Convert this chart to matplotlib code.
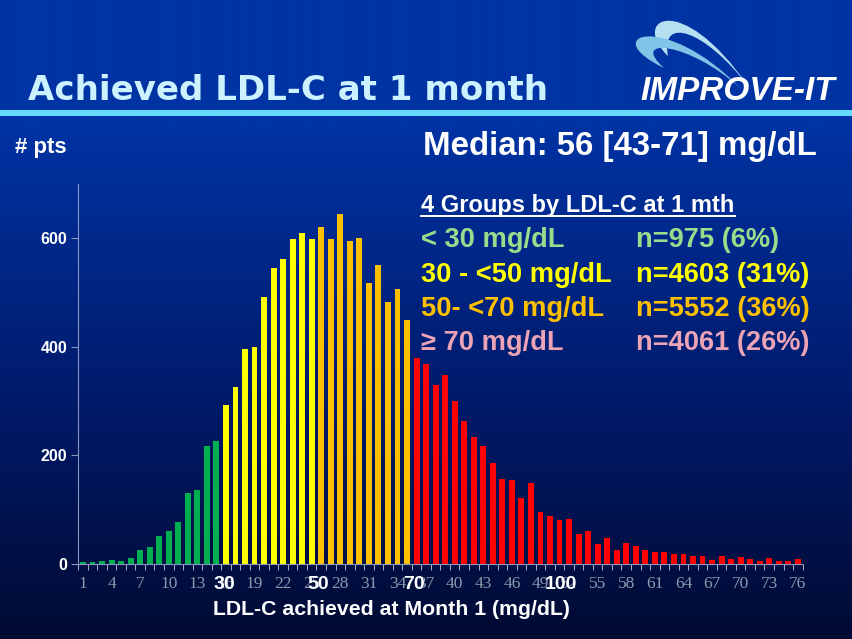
import numpy as np
import matplotlib

matplotlib.use("Agg")
import matplotlib.pyplot as plt
from matplotlib.path import Path
from matplotlib.patches import PathPatch

# data: patients per LDL-C bin at 1 month (bins 1..76)
counts = [
    3, 4, 6, 8, 6, 11, 25, 32, 51, 60, 77, 131, 137, 218, 227,
    293, 325, 396, 399, 491, 544, 561, 598, 609, 598,
    621, 598, 644, 595, 600, 518, 550, 482, 506, 449,
    380, 369, 329, 347, 300, 264, 234, 217, 186, 156, 155, 121, 149, 96, 88,
    81, 82, 55, 60, 37, 48, 26, 39, 34, 25, 23, 23, 19, 19, 14,
    14, 7, 14, 10, 12, 10, 5, 11, 5, 6, 9,
]
bin_group = [0] * 15 + [1] * 10 + [2] * 10 + [3] * 41
group_colors = ["#00B050", "#FFFF00", "#FFC000", "#FF0000"]

tick_pos = [1, 4, 7, 10, 13, 16, 19, 22, 25, 28, 31, 34, 37, 40, 43, 46, 49,
            52, 55, 58, 61, 64, 67, 70, 73, 76]
tick_labels = ["1", "4", "7", "10", "13", "16", "19", "22", "25", "28", "31",
               "34", "37", "40", "43", "46", "49", "52", "55", "58", "61",
               "64", "67", "70", "73", "76"]
yticks = [0, 200, 400, 600]

mgdl_labels = ["30", "50", "70", "100"]
mgdl_at = [15.8, 25.7, 35.7, 51.2]

group_ranges = ["< 30 mg/dL", "30 - <50 mg/dL", "50- <70 mg/dL", "\u2265 70 mg/dL"]
group_n = ["n=975 (6%)", "n=4603 (31%)", "n=5552 (36%)", "n=4061 (26%)"]
legend_colors = ["#9BDC8C", "#FFFF00", "#FFC000", "#EBA3B5"]

W, H = 853, 639
fig = plt.figure(figsize=(W / 100, H / 100), dpi=100)

# background
bg = fig.add_axes([0, 0, 1, 1], zorder=0)
bg.set_xlim(0, W)
bg.set_ylim(H, 0)
bg.axis("off")
top = np.array([0x00, 0x33, 0xA3]) / 255
mid = np.array([0x00, 0x1A, 0x6A]) / 255
bot = np.array([0x00, 0x0A, 0x32]) / 255
rows = np.zeros((H, 1, 3))
for r in range(H):
    if r < 125:
        rows[r, 0] = top
    elif r < 400:
        t = (r - 125) / (400 - 125)
        rows[r, 0] = top * (1 - t) + mid * t
    else:
        t = (r - 400) / (H - 400)
        rows[r, 0] = mid * (1 - t) + bot * t
bg.imshow(rows, extent=[0, W, H, 0], aspect="auto", interpolation="bilinear")
bg.fill_between([0, W], 110, 116, color="#66D9FF", lw=0)

# chart
ax = fig.add_axes([78.2 / W, 1 - 564 / H, 724.4 / W, 380.3 / H], zorder=1)
ax.patch.set_alpha(0)
x = np.arange(1, len(counts) + 1)
colors = [group_colors[g] for g in bin_group]
ax.bar(x, counts, width=0.62, color=colors, edgecolor="none")
ax.set_xlim(0.5, 76.5)
ax.set_ylim(0, 700)
for s in ["top", "right"]:
    ax.spines[s].set_visible(False)
ax.spines["left"].set_color("#8A96C0")
ax.spines["bottom"].set_color("#8A96C0")
ax.set_yticks(yticks)
ax.set_yticklabels([str(v) for v in yticks], color="white", fontweight="bold",
                   fontsize=11.5, family="Liberation Sans")
ax.tick_params(axis="y", colors="#8A96C0", length=5, labelcolor="white", pad=3)
ax.set_xticks(tick_pos)
ax.set_xticklabels(tick_labels, fontsize=12.5, family="Liberation Serif",
                   color="#8E97AC")
ax.tick_params(axis="x", length=0, pad=9)
ax.set_xticks(np.arange(0.5, 77, 1), minor=True)
ax.tick_params(axis="x", which="minor", length=4, colors="#C8CCD8")

# overlay text
ov = fig.add_axes([0, 0, 1, 1], zorder=2)
ov.set_xlim(0, W)
ov.set_ylim(H, 0)
ov.axis("off")
ov.patch.set_alpha(0)

ov.text(28, 100, "Achieved LDL-C at 1 month", color="#CCF2FF", fontsize=24.5,
        fontweight="bold", family="DejaVu Sans", va="baseline")
ov.text(15, 153, "# pts", color="white", fontsize=16, fontweight="bold",
        family="Liberation Sans", va="baseline")
ov.text(423, 155, "Median: 56 [43-71] mg/dL", color="white", fontsize=23.8,
        fontweight="bold", family="Liberation Sans", va="baseline")
ov.text(421, 212, "4 Groups by LDL-C at 1 mth", color="white", fontsize=17,
        fontweight="bold", family="Liberation Sans", va="baseline")
ov.plot([421, 735], [216, 216], color="white", lw=1.4)
for i, (rng, n, c) in enumerate(zip(group_ranges, group_n, legend_colors)):
    yb = 247 + i * 34.5
    ov.text(421, yb, rng, color=c, fontsize=19.6, fontweight="bold",
            family="Liberation Sans", va="baseline")
    ov.text(636, yb, n, color=c, fontsize=19.6, fontweight="bold",
            family="Liberation Sans", va="baseline")

for lab, xv in zip(mgdl_labels, mgdl_at):
    px = 78.2 + (xv - 0.5) * 9.53
    ov.text(px, 589, lab, color="white", fontsize=14, fontweight="bold",
            family="Liberation Sans", ha="center", va="baseline")
ov.text(391, 615, "LDL-C achieved at Month 1 (mg/dL)", color="white", fontsize=15.3,
        fontweight="bold", family="Liberation Sans", ha="center", va="baseline")


# logo
def swoosh(p0, c1, c2, p1, d1, d2, color):
    verts = [p0, c1, c2, p1, d1, d2, p0, p0]
    codes = [Path.MOVETO, Path.CURVE4, Path.CURVE4, Path.CURVE4,
             Path.CURVE4, Path.CURVE4, Path.CURVE4, Path.CLOSEPOLY]
    ov.add_patch(PathPatch(Path(verts, codes), facecolor=color, edgecolor="none"))


swoosh((668, 56), (630, 20), (680, -12), (748, 86), (705, 30), (660, 15), "#B5E0F2")
swoosh((664, 68), (595, 35), (665, 10), (740, 88), (690, 42), (628, 36), "#80C4E7")
ov.text(640, 100, "IMPROVE-IT", color="white", fontsize=24, fontweight="bold",
        fontstyle="italic", family="Liberation Sans", va="baseline")

fig.savefig("out.png", dpi=100)
